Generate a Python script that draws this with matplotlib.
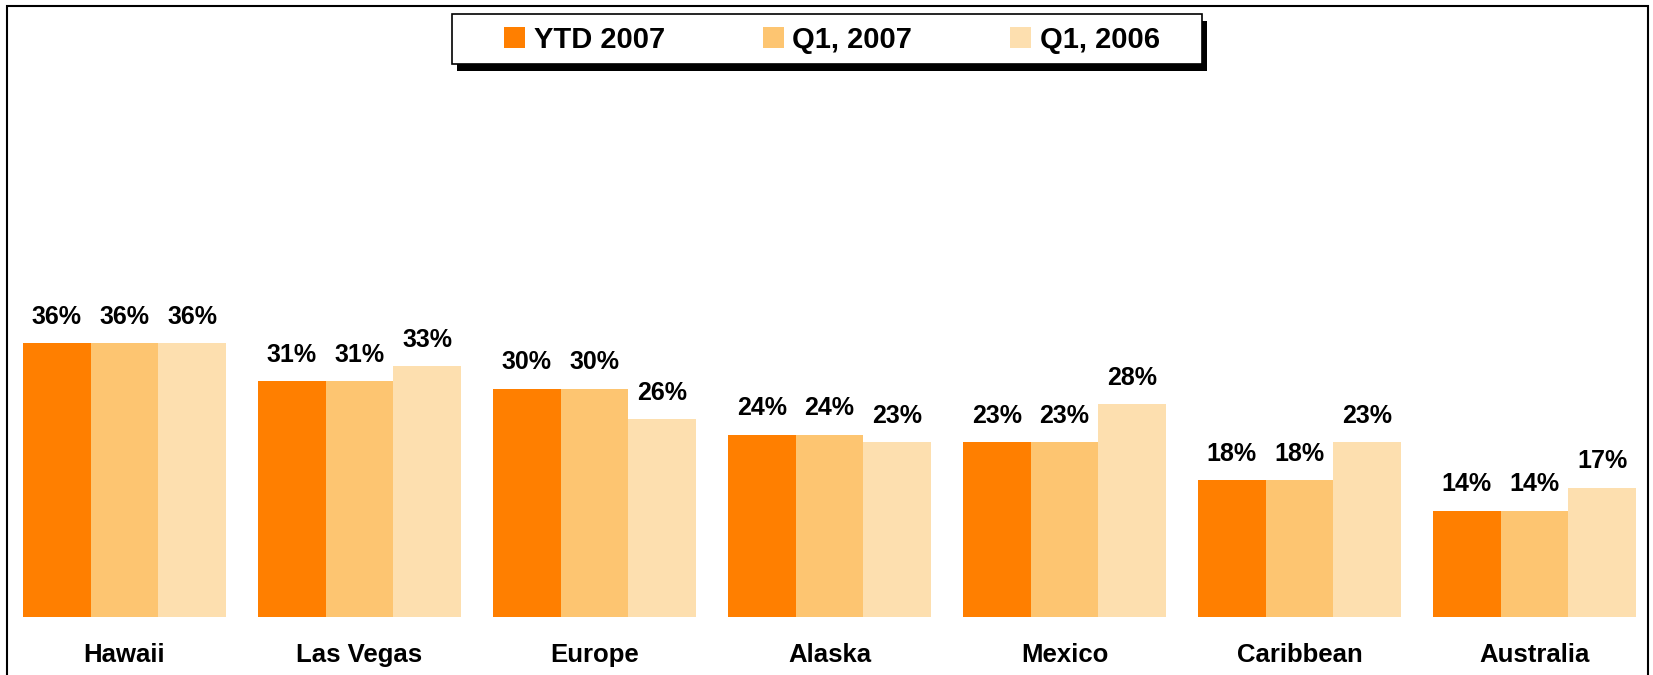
import numpy as np
from matplotlib import pyplot as plt
from matplotlib.patches import Rectangle, Patch

plt.rcParams['font.family'] = ['Liberation Sans', 'DejaVu Sans']
plt.rcParams['font.weight'] = 'bold'

regions = ['Hawaii', 'Las Vegas', 'Europe', 'Alaska', 'Mexico', 'Caribbean', 'Australia']
series_names = ['YTD 2007', 'Q1, 2007', 'Q1, 2006']
ytd_2007 = [36, 31, 30, 24, 23, 18, 14]
q1_2007 = [36, 31, 30, 24, 23, 18, 14]
q1_2006 = [36, 33, 26, 23, 28, 23, 17]
colors = ['#FF7F00', '#FDC571', '#FDDFAF']

W, H = 1653, 675
fig = plt.figure(figsize=(W / 100, H / 100), dpi=100)
ax = fig.add_axes([0, 58 / H, 1, 617 / H])

x_pos = np.arange(len(regions))
width = 0.288
for i, (vals, col) in enumerate(zip([ytd_2007, q1_2007, q1_2006], colors)):
    bars = ax.bar(x_pos + (i - 1) * width, vals, width, color=col, linewidth=0)
    for b, v in zip(bars, vals):
        ax.annotate('{}%'.format(v), (b.get_x() + b.get_width() / 2, v),
                    xytext=(0, 10.5), textcoords='offset points',
                    ha='center', va='bottom', fontsize=18, fontweight='bold')

ax.set_xlim(-0.53, 6.504)
ax.set_ylim(0, 617 / 7.6)
ax.set_xticks(x_pos, regions, fontsize=18.5, fontweight='bold')
ax.tick_params(axis='x', length=0, pad=19)
ax.set_yticks([])
for s in ax.spines.values():
    s.set_visible(False)
ax.patch.set_alpha(0)

# outer frame
fig.patches.append(Rectangle((7 / W, -0.1), (1648 - 7) / W, 1.1 - 6 / H,
                             transform=fig.transFigure, fill=False,
                             edgecolor='black', linewidth=1.5))

# legend box with hard shadow
lx0, lx1, ly0, ly1 = 452, 1202, 14.5, 64
fig.patches.append(Rectangle(((lx0 + 5) / W, 1 - (ly1 + 6.5) / H), (lx1 - lx0) / W,
                             (ly1 - ly0) / H, transform=fig.transFigure,
                             facecolor='black', edgecolor='none', zorder=4))
fig.patches.append(Rectangle((lx0 / W, 1 - ly1 / H), (lx1 - lx0) / W,
                             (ly1 - ly0) / H, transform=fig.transFigure,
                             facecolor='white', edgecolor='black', linewidth=1.2, zorder=4.5))
handles = [Patch(facecolor=c, edgecolor='none') for c in colors]
leg = fig.legend(handles, series_names, loc='center', ncol=3, frameon=False,
                 bbox_to_anchor=(832 / W, 1 - 40 / H),
                 borderaxespad=0, handlelength=0.72, handleheight=0.72,
                 handletextpad=0.3, columnspacing=3.35, borderpad=0,
                 prop={'weight': 'bold', 'size': 21})
leg.set_zorder(5)

plt.savefig('out.png', dpi=100)
plt.close()
